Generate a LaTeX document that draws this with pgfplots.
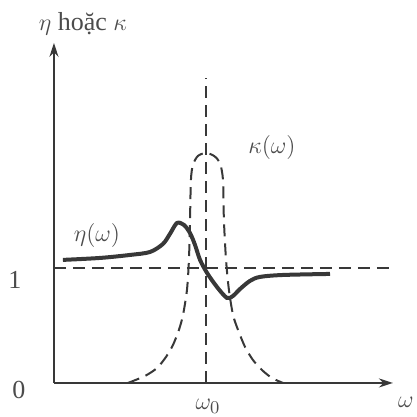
\documentclass[border=0pt]{standalone}
\usepackage{pgfplots}
\pgfplotsset{compat=1.18}
\usepackage{fontspec}
\setmainfont{Liberation Serif}
\usetikzlibrary{arrows.meta}

\definecolor{ink}{gray}{0.22}
\definecolor{txt}{gray}{0.30}

\begin{document}
\begin{tikzpicture}
\begin{axis}[
  x=76pt, y=57.5pt,
  xmin=0, xmax=2.23, ymin=0, ymax=2.957,
  axis lines=left,
  axis line style={ink, line width=1pt, -{Stealth[length=7pt, width=4.5pt]}},
  xtick=\empty, ytick=\empty,
  clip=false,
  font=\fontsize{13}{15}\selectfont,
]
  % reference level n = 1 and the resonance line at omega_0
  \addplot[ink, line width=1pt, dash pattern=on 6pt off 3.5pt]
    coordinates {(0,1) (2.224,1)};
  \addplot[ink, line width=1pt, dash pattern=on 6pt off 3.5pt]
    coordinates {(1,0) (1,2.652)};

  % absorption kappa(omega)
  \addplot[ink, line width=1pt, dash pattern=on 6pt off 3.5pt, smooth, tension=0.45]
    coordinates {
      (0.487,0) (0.599,0.061) (0.678,0.130) (0.737,0.226) (0.783,0.330)
      (0.822,0.461) (0.849,0.591) (0.875,0.809) (0.888,1.070) (0.895,1.417)
      (0.901,1.765) (0.914,1.896) (0.947,1.974) (1.000,2.000) (1.053,1.974)
      (1.092,1.913) (1.112,1.765) (1.118,1.417) (1.132,1.070) (1.151,0.809)
      (1.178,0.591) (1.211,0.461) (1.257,0.313) (1.309,0.200) (1.368,0.113)
      (1.434,0.043) (1.507,0)
    };

  % refractive index eta(omega)
  \addplot[ink, line width=2pt, smooth, tension=0.5]
    coordinates {
      (0.059,1.070) (0.303,1.087) (0.500,1.113) (0.632,1.139) (0.717,1.209)
      (0.763,1.296) (0.809,1.391) (0.855,1.374) (0.895,1.304) (0.928,1.200)
      (0.961,1.070) (1.007,0.957) (1.072,0.835) (1.138,0.739) (1.178,0.757)
      (1.224,0.817) (1.289,0.887) (1.355,0.922) (1.507,0.939) (1.816,0.948)
    };

  % labels
  \node[txt] at (axis cs:0.19,3.12) {$\eta$ hoặc $\kappa$};
  \node[txt] at (axis cs:-0.257,0.896) {1};
  \node[txt] at (axis cs:-0.23,-0.06) {0};
  \node[txt] at (axis cs:1.013,-0.205) {$\omega_0$};
  \node[txt] at (axis cs:2.315,-0.17) {$\omega$};
  \node[txt] at (axis cs:0.283,1.278) {$\eta(\omega)$};
  \node[txt] at (axis cs:1.434,2.043) {$\kappa(\omega)$};

  \coordinate (bl) at (axis cs:-0.355,-0.296);
  \coordinate (tr) at (axis cs:2.382,3.330);
\end{axis}
\pgfresetboundingbox
\path[use as bounding box] (bl) rectangle (tr);
\end{tikzpicture}
\end{document}
